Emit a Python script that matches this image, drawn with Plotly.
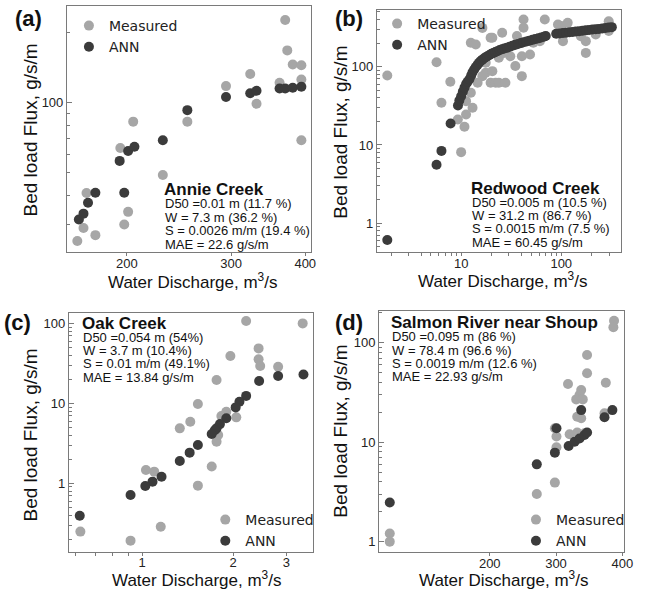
import plotly.graph_objects as go

GRAY = "#a6a6a6"
DARK = "#3b3b3b"

# ---------- (a) Annie Creek ----------
a_meas_x = [370, 373, 381, 394, 394, 362, 323, 294, 331, 394, 205, 253, 195, 230, 171, 201, 169, 198, 165, 177]
a_meas_y = [227, 168, 146, 145, 126, 122, 133, 118, 99, 69, 83, 83, 64, 49, 41, 34, 29, 30, 25.5, 27]
a_ann_x = [166, 169, 172, 177, 194.5, 198, 201, 206, 230, 253, 294, 323, 331, 362, 370, 381, 394]
a_ann_y = [31.5, 33.4, 37.2, 41.1, 56.3, 41.1, 62.1, 64.7, 69.1, 93, 106, 110, 112.6, 115.3, 115.3, 116, 117.2]

# ---------- (b) Redwood Creek ----------
b_meas_x = [1.83, 5.68, 7.8, 6.36, 10.0, 10.8, 12.5, 13.0, 11.2, 11.2, 9.27, 12.5, 14.0, 16.3, 19.7, 20.5,
            25.7, 36.1, 42.0, 42.0, 68.5, 17.6, 19.7, 22.1, 23.8, 27.7, 20.5, 31.0, 34.8, 40.4, 40.4, 61.2,
            92.7, 100, 116, 104, 157, 176, 176, 221, 298, 298, 17.6, 23.8, 48.8, 52.6, 26.7, 16.3, 14.6]
b_meas_y = [77.2, 114, 64.1, 34.6, 8.1, 17.1, 46.4, 29.9, 24.5, 36.3, 21.2, 202, 192, 313, 234, 234,
            271, 246, 401, 314, 401, 83.6, 62.2, 62.2, 62.2, 62.2, 87.7, 136, 102, 136, 75.7, 212,
            346, 330, 363, 212, 245, 212, 150, 258, 381, 285, 112, 130, 143, 202, 150, 75.7, 62.2]
b_ann_x = [1.83, 5.68, 6.36, 7.85,
           9.3, 9.6, 10.0, 10.4, 10.8, 11.2, 11.6, 12.1, 12.6, 13.0, 13.5, 14.0, 14.6, 15.1, 15.7, 16.3,
           17.0, 17.6, 18.3, 19.2, 20.1, 21.0, 22.0, 23.0, 24.3, 25.6, 27.0, 28.7, 30.5, 32.5, 34.6,
           37.0, 39.5, 42.0, 45.0, 48.0, 51.5, 55.0, 59.0, 63.0, 67.0, 70.0,
           89, 96, 104, 112, 121, 130, 140, 151, 163, 176, 190, 205, 221, 238, 257, 277, 298, 320]
b_ann_y = [0.61, 5.6, 8.4, 18.8,
           32, 37, 42, 48, 54, 60, 64, 69, 77, 85, 92, 99, 106, 112, 118, 123,
           128, 132, 136, 141, 146, 150, 154, 158, 163, 167, 171, 175, 180, 185, 190,
           195, 200, 205, 210, 215, 220, 225, 230, 236, 241, 246,
           263, 266, 269, 272, 275, 278, 281, 284, 287, 291, 294, 298, 301, 304, 308, 312, 316, 320]

# ---------- (c) Oak Creek ----------
c_meas_x = [2.21, 3.40, 2.43, 2.43, 2.46, 2.82, 1.96, 1.764, 1.53, 1.333, 1.444, 1.83, 1.90, 2.05,
            1.764, 1.786, 1.70, 1.53, 1.03, 1.097, 1.153, 0.916, 0.625]
c_meas_y = [107, 100, 48.7, 35.5, 29.3, 28.7, 39.1, 19.6, 9.8, 4.87, 5.9, 6.95, 7.87, 6.68,
            3.32, 4.02, 1.62, 0.935, 1.47, 1.40, 0.287, 0.192, 0.249]
c_ann_x = [3.42, 2.82, 2.44, 2.21, 2.10, 2.04, 1.90, 1.81, 1.764, 1.74, 1.70, 1.53, 1.437, 1.333,
           1.16, 1.083, 1.025, 0.916, 0.622]
c_ann_y = [23.0, 22.0, 19.0, 12.4, 10.5, 8.9, 6.5, 5.5, 4.87, 4.6, 4.14, 3.01, 2.42, 1.90,
           1.21, 1.05, 0.926, 0.715, 0.394]

# ---------- (d) Salmon River near Shoup ----------
d_meas_x = [49.1, 49.1, 387.6, 386.6, 346.9, 346.9, 375.2, 318.1, 338, 335.5, 330.5, 340.4, 332, 338,
            373.2, 320.6, 332, 298.3, 300.7, 300.7, 298.3, 271, 343]
d_meas_y = [1.21, 1.0, 166, 142.6, 75.2, 49.2, 39.6, 38.4, 33.4, 29.8, 26.9, 26.9, 18.0, 17.4,
            19.5, 12.0, 12.5, 13.8, 11.4, 8.87, 3.92, 3.01, 12.3]
d_ann_x = [49.1, 271, 298.3, 300.7, 338, 319.1, 328.1, 335.5, 343, 346.9, 373.2, 385.1]
d_ann_y = [2.47, 5.98, 7.84, 13.8, 21.0, 9.15, 10.1, 10.9, 11.8, 12.5, 17.8, 21.0]

SERIES_NAMES = ["Measured", "ANN"]

W, H = 652, 593
def px(x):
    return x / W
def py(y):
    return 1 - y / H

fig = go.Figure()
panels = [
    ("x", "y", "legend", a_meas_x, a_meas_y, a_ann_x, a_ann_y),
    ("x2", "y2", "legend2", b_meas_x, b_meas_y, b_ann_x, b_ann_y),
    ("x3", "y3", "legend3", c_meas_x, c_meas_y, c_ann_x, c_ann_y),
    ("x4", "y4", "legend4", d_meas_x, d_meas_y, d_ann_x, d_ann_y),
]
for xa, ya, lg, mx, my, ax, ay in panels:
    fig.add_trace(go.Scatter(x=mx, y=my, mode="markers", name=SERIES_NAMES[0], xaxis=xa, yaxis=ya,
                             legend=lg, marker=dict(color=GRAY, size=10, line=dict(width=0))))
    fig.add_trace(go.Scatter(x=ax, y=ay, mode="markers", name=SERIES_NAMES[1], xaxis=xa, yaxis=ya,
                             legend=lg, marker=dict(color=DARK, size=10, line=dict(width=0))))

AXC = "#7a7a7a"
TICKF = dict(family="Liberation Sans, Arial", size=13, color="#222")
def xaxis_common(**kw):
    d = dict(showline=True, linecolor=AXC, linewidth=1, mirror=True, showgrid=False, zeroline=False,
             ticks="outside", ticklen=3, tickcolor=AXC, tickfont=TICKF, ticklabelstandoff=-4)
    d.update(kw)
    return d
def yaxis_common(**kw):
    d = dict(showline=True, linecolor=AXC, linewidth=1, mirror=True, showgrid=False, zeroline=False,
             ticks="inside", ticklen=5, tickcolor=AXC, tickfont=TICKF)
    d.update(kw)
    return d

minor_x = dict(ticks="outside", ticklen=3, tickcolor=AXC, showgrid=False)
minor_y = dict(ticks="inside", ticklen=3, tickcolor=AXC, showgrid=False)

fig.update_layout(
    width=W, height=H, margin=dict(l=0, r=0, t=0, b=0),
    paper_bgcolor="white", plot_bgcolor="white",
    xaxis=xaxis_common(type="log", range=[2.200, 2.612], domain=[px(68), px(316)], anchor="y",
                       tickvals=[200, 300, 400], ticktext=["200", "300", "400"]),
    yaxis=yaxis_common(type="log", range=[1.359, 2.416], domain=[py(252), py(6)], anchor="x",
                       tickvals=[100], ticktext=["100"],
                       minor=dict(minor_y, tickvals=[30, 40, 50, 60, 70, 80, 90, 200])),
    xaxis2=xaxis_common(type="log", range=[0.158, 2.60], domain=[px(382.7), px(631)], anchor="y2",
                        tickvals=[10, 100], ticktext=["10", "100"],
                        minor=dict(minor_x, tickvals=[2, 3, 4, 5, 6, 7, 8, 9, 20, 30, 40, 50, 60, 70, 80, 90, 200, 300])),
    yaxis2=yaxis_common(type="log", range=[-0.367, 2.724], domain=[py(252), py(10)], anchor="x2",
                        tickvals=[1, 10, 100], ticktext=["1", "10", "100"],
                        minor=dict(minor_y, tickvals=[0.5, 0.6, 0.7, 0.8, 0.9, 2, 3, 4, 5, 6, 7, 8, 9,
                                                      20, 30, 40, 50, 60, 70, 80, 90, 200, 300, 400, 500])),
    xaxis3=xaxis_common(type="log", range=[-0.242, 0.566], domain=[px(70), px(318)], anchor="y3",
                        tickvals=[1, 2, 3], ticktext=["1", "2", "3"],
                        minor=dict(minor_x, tickvals=[0.6, 0.7, 0.8, 0.9])),
    yaxis3=yaxis_common(type="log", range=[-0.855, 2.13], domain=[py(551.7), py(313)], anchor="x3",
                        tickvals=[1, 10, 100], ticktext=["1", "10", "100"],
                        minor=dict(minor_y, tickvals=[0.2, 0.3, 0.4, 0.5, 0.6, 0.7, 0.8, 0.9, 2, 3, 4, 5, 6, 7, 8, 9,
                                                      20, 30, 40, 50, 60, 70, 80, 90])),
    xaxis4=xaxis_common(type="linear", range=[33, 402], domain=[px(385), px(633.3)], anchor="y4",
                        tickvals=[200, 300, 400], ticktext=["200", "300", "400"]),
    yaxis4=yaxis_common(type="log", range=[-0.107, 2.318], domain=[py(552.3), py(311)], anchor="x4",
                        tickvals=[1, 10, 100], ticktext=["1", "10", "100"],
                        minor=dict(minor_y, tickvals=[2, 3, 4, 5, 6, 7, 8, 9, 20, 30, 40, 50, 60, 70, 80, 90, 200])),
)

LEGF = dict(family="DejaVu Sans", size=14, color="#222")
def leg(xc, ytop):
    return dict(x=px(xc - 22), y=py(ytop), xanchor="left", yanchor="top", bgcolor="rgba(0,0,0,0)",
                font=LEGF, itemsizing="trace", borderwidth=0, tracegroupgap=0)
fig.update_layout(
    legend=leg(92, 10),
    legend2=leg(405, 8),
    legend3=leg(230.5, 504),
    legend4=leg(546, 504),
)

ann = []
def txt(x, y, s, size=13, bold=False, xanchor="left", angle=0):
    ann.append(dict(x=px(x), y=py(y), xref="paper", yref="paper", text=("<b>%s</b>" % s) if bold else s,
                    showarrow=False, xanchor=xanchor, yanchor="middle", textangle=angle,
                    font=dict(family="Liberation Sans, Arial", size=size, color="#111")))

# panel letters
txt(13, 18, "(a)", 22, True)
txt(338, 18, "(b)", 22, True)
txt(2, 322, "(c)", 22, True)
txt(338, 322, "(d)", 22, True)

# info blocks
blocks = [
    (166, 190, "Annie Creek", ["D50 =0.01 m (11.7 %)", "W = 7.3 m (36.2 %)", "S = 0.0026 m/m (19.4 %)", "MAE = 22.6 g/s/m"]),
    (477, 188, "Redwood Creek", ["D50 =0.005 m (10.5 %)", "W = 31.2 m (86.7 %)", "S = 0.0015 m/m (7.5 %)", "MAE = 60.45 g/s/m"]),
    (82, 323, "Oak Creek", ["D50 =0.054 m (54%)", "W = 3.7 m (10.4%)", "S = 0.01 m/m (49.1%)", "MAE = 13.84 g/s/m"]),
    (396, 322.7, "Salmon River near Shoup", ["D50 =0.095 m (86 %)", "W = 78.4 m (96.6 %)", "S = 0.0019 m/m (12.6 %)", "MAE = 22.93 g/s/m"]),
]
for x0, y0, title, lines in blocks:
    txt(x0 - 1, y0, title, 17, True)
    for i, ln in enumerate(lines):
        txt(x0, y0 + 14 + 13.4 * i, ln, 13)

# axis titles
xt = "Water Discharge, m<sup>3</sup>/s"
yt = "Bed load Flux, g/s/m"
for (xc, yc) in [(195, 281), (510, 280), (200, 579), (511, 579)]:
    txt(xc, yc, xt, 17, xanchor="center")
for (xc, yc) in [(30, 130), (345, 132), (30, 435), (345, 431)]:
    txt(xc, yc, yt, 19, xanchor="center", angle=-90)

fig.update_layout(annotations=ann)
fig.write_html("out.html", config={"displayModeBar": False},
               post_script="document.body.style.margin='0px';document.body.style.padding='0px';")
